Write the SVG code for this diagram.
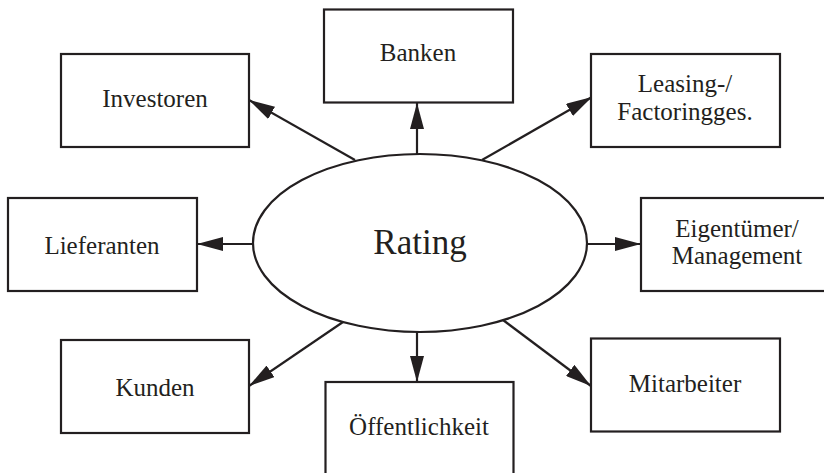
<svg xmlns="http://www.w3.org/2000/svg" width="824" height="473" viewBox="0 0 824 473">
<style>
.box{fill:#fff;stroke:#231f20;stroke-width:2.2}
.ell{fill:#fff;stroke:#231f20;stroke-width:2.2}
.lbl{font-family:"Liberation Serif","Times New Roman",serif;font-size:25px;fill:#231f20;text-anchor:middle}
.big{font-size:35px}
.con{stroke:#231f20;stroke-width:2.2;fill:none;marker-end:url(#ah)}
</style>
<defs>
<marker id="ah" markerUnits="userSpaceOnUse" markerWidth="26" markerHeight="14" refX="26" refY="7" orient="auto" viewBox="0 0 26 14">
<path d="M0,0 L26,7 L0,14 z" fill="#231f20"/>
</marker>
</defs>
<rect width="824" height="473" fill="#fff"/>
<g id="connectors">
<line class="con" x1="355" y1="160" x2="249" y2="100"/>
<line class="con" x1="417" y1="154" x2="417" y2="103"/>
<line class="con" x1="482" y1="160" x2="592" y2="97"/>
<line class="con" x1="587" y1="244" x2="641" y2="244"/>
<line class="con" x1="253" y1="244" x2="197" y2="244"/>
<line class="con" x1="343" y1="322" x2="249" y2="386"/>
<line class="con" x1="417" y1="332" x2="417" y2="382"/>
<line class="con" x1="503" y1="320" x2="591" y2="386"/>
</g>
<g id="rating">
<ellipse class="ell" cx="420" cy="243" rx="167" ry="89"/>
<text class="lbl big" x="420" y="254">Rating</text>
</g>
<g id="investoren">
<rect class="box" x="61" y="54" width="188" height="93"/>
<text class="lbl" x="155" y="107">Investoren</text>
</g>
<g id="banken">
<rect class="box" x="324" y="9.5" width="189" height="93"/>
<text class="lbl" x="418" y="61">Banken</text>
</g>
<g id="leasing">
<rect class="box" x="591" y="54" width="189" height="93"/>
<text class="lbl" x="685" y="92">Leasing-/</text>
<text class="lbl" x="685" y="120">Factoringges.</text>
</g>
<g id="eigentuemer">
<rect class="box" x="641" y="198" width="189" height="93"/>
<text class="lbl" x="737" y="237">Eigentümer/</text>
<text class="lbl" x="737" y="264">Management</text>
</g>
<g id="lieferanten">
<rect class="box" x="8" y="198" width="189" height="93"/>
<text class="lbl" x="102" y="254">Lieferanten</text>
</g>
<g id="kunden">
<rect class="box" x="61" y="340" width="188" height="93"/>
<text class="lbl" x="155" y="396">Kunden</text>
</g>
<g id="oeffentlichkeit">
<rect class="box" x="325.5" y="382" width="188" height="100"/>
<text class="lbl" x="419" y="435">Öffentlichkeit</text>
</g>
<g id="mitarbeiter">
<rect class="box" x="591" y="338.5" width="189" height="93"/>
<text class="lbl" x="685" y="392">Mitarbeiter</text>
</g>
</svg>
